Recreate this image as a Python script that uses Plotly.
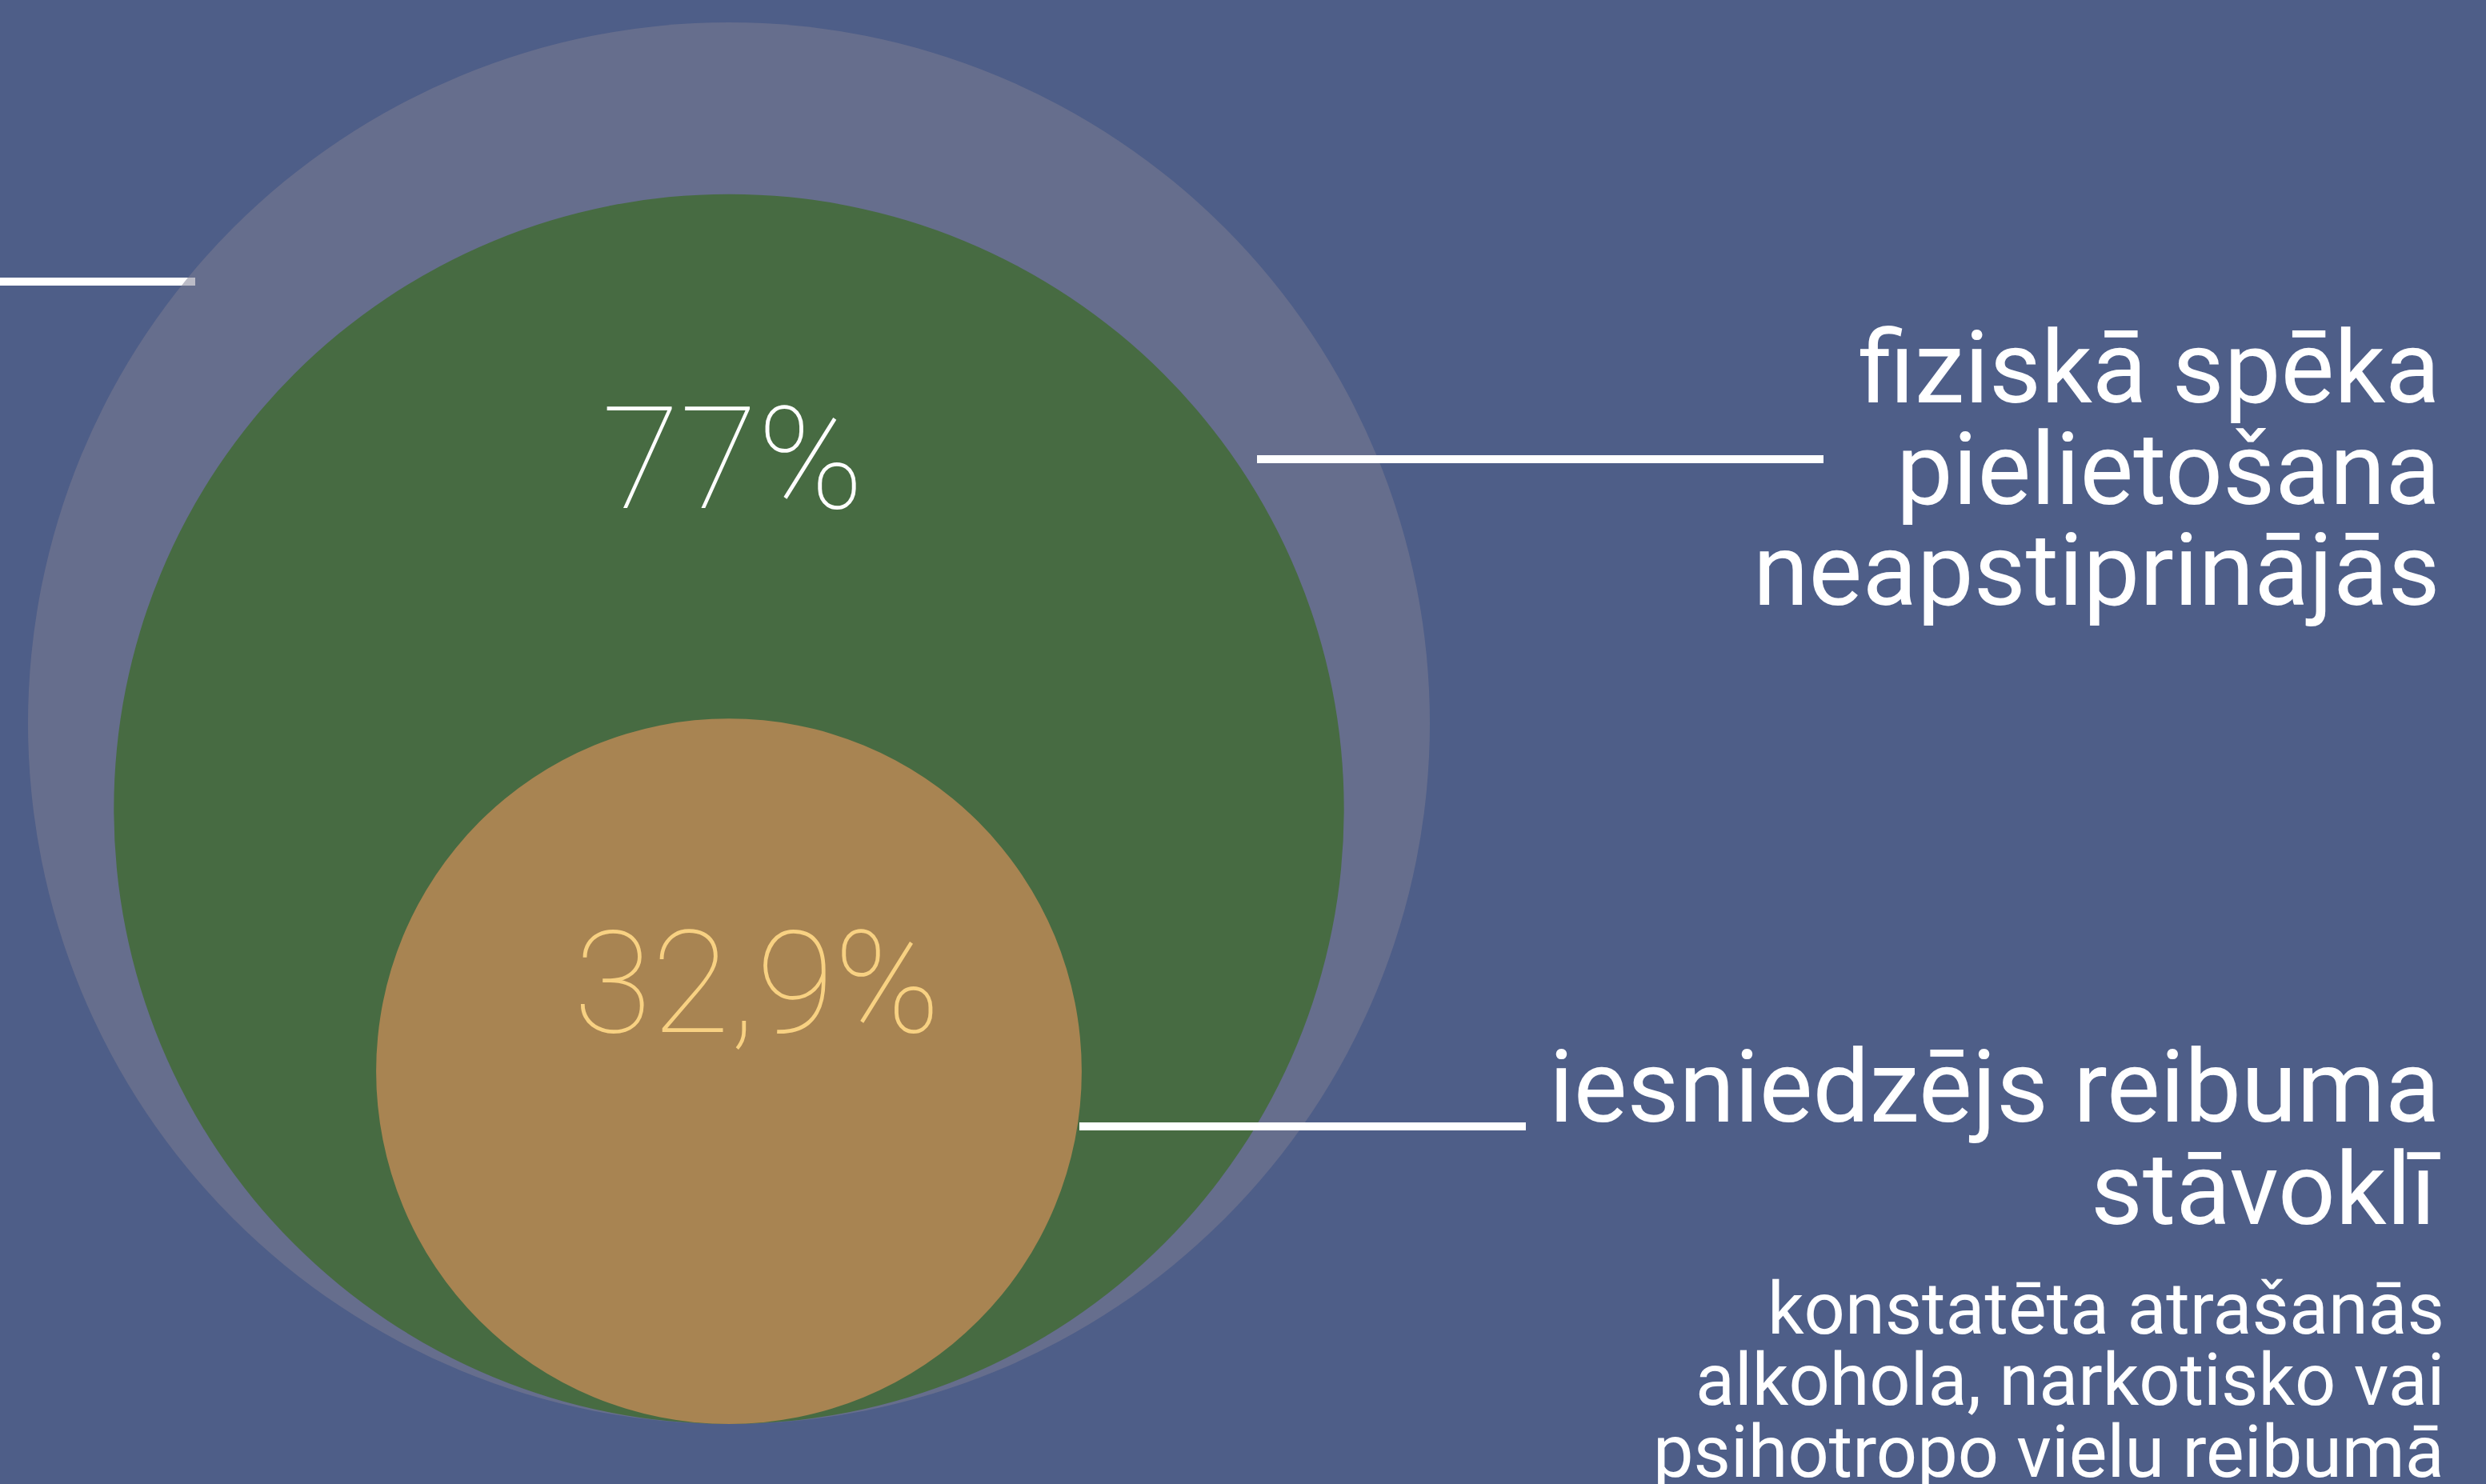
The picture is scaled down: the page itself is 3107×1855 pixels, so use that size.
import math
import plotly.graph_objects as go

# ---- data ----
shares = [100, 77, 32.9]                      # outer (all), physical force, intoxicated
pct_labels = ["77%", "32,9%"]
label_force = ["fiziskā spēka", "pielietošana", "neapstiprinājās"]
label_intox = ["iesniedzējs reibuma", "stāvoklī"]
label_note = ["konstatēta atrašanās", "alkohola, narkotisko vai", "psihotropo vielu reibumā"]

# ---- layout constants (pixels) ----
W, H = 3107, 1855
BG = "#4E5E88"
CX, BOTTOM = 911, 1780
R_OUT = 876

r_out = R_OUT
r_green = R_OUT * math.sqrt(shares[1] / shares[0])
r_orange = r_green * math.sqrt(shares[2] / 100)

def circle(r, fill):
    cy = BOTTOM - r
    return dict(type="circle", xref="x", yref="y", x0=CX - r, x1=CX + r,
                y0=cy - r, y1=cy + r, fillcolor=fill, line=dict(width=0), layer="above")

def hline(x0, x1, y):
    return dict(type="line", xref="x", yref="y", x0=x0, x1=x1, y0=y, y1=y,
                line=dict(color="white", width=10), layer="above")

shapes = [
    hline(0, 244, 352),
    circle(r_out, "rgba(124,125,146,0.52)"),
    circle(r_green, "#476B42"),
    circle(r_orange, "#A88452"),
    hline(1571, 2279, 574),
    hline(1349, 1907, 1408),
]

annotations = []
def add_text(text, x, baseline, size, color, xanchor="right", weight=400):
    annotations.append(dict(text=text, x=x, y=baseline - 0.33 * size, xref="x", yref="y",
                            xanchor=xanchor, yanchor="middle", showarrow=False,
                            font=dict(family="Roboto", size=size, color=color, weight=weight)))

RIGHT = 3052
for i, t in enumerate(label_force):
    add_text(t, RIGHT, 502 + i * 126.5, 126, "white")
for i, t in enumerate(label_intox):
    add_text(t, RIGHT, 1401 + i * 128, 126, "white")
for i, t in enumerate(label_note):
    add_text(t, RIGHT + 5, 1666 + i * 89.5, 90, "white")

add_text(pct_labels[0], 916, 633, 178, "white", xanchor="center", weight=100)
add_text(pct_labels[1], 946, 1288, 178, "#F8D182", xanchor="center", weight=100)

fig = go.Figure()
fig.update_layout(
    width=W, height=H, margin=dict(l=0, r=0, t=0, b=0),
    paper_bgcolor=BG, plot_bgcolor=BG,
    xaxis=dict(range=[0, W], visible=False, fixedrange=True),
    yaxis=dict(range=[H, 0], visible=False, fixedrange=True),
    shapes=shapes, annotations=annotations, showlegend=False,
)
fig.write_html("out.html", config={"displayModeBar": False},
               post_script="document.body.style.margin='0';document.body.style.overflow='hidden';")
